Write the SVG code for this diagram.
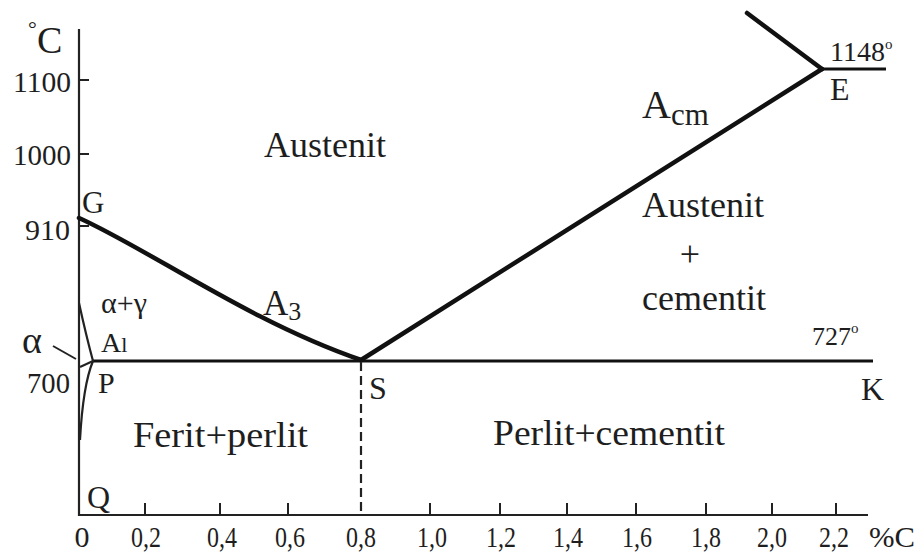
<svg xmlns="http://www.w3.org/2000/svg" width="924" height="555" viewBox="0 0 924 555">
<style>
text{font-family:"Liberation Serif","Times New Roman",serif;fill:#1e1e1e}
.ax{stroke:#222;stroke-width:2.2;fill:none}
.tk{stroke:#222;stroke-width:2;fill:none}
.ph{stroke:#111;stroke-width:4.5;fill:none;stroke-linecap:round}
.ln{stroke:#111;stroke-width:3;fill:none}
.thin{stroke:#222;stroke-width:2.2;fill:none}
.lbl{font-size:36px}
.num{font-size:30px}
.xl{font-size:30px;text-anchor:middle}
</style>
<rect width="924" height="555" fill="#fff"/>
<g id="axes">
<path class="ax" d="M79,29 V515 H868"/>
<path class="tk" d="M79,80 H89 M79,154 H89 M79,226 H89"/>
<path class="tk" d="M145,515 V503 M220,515 V503 M288,515 V503 M430,515 V503 M500,515 V503 M567,515 V503 M636,515 V503 M706,515 V503 M772,515 V503 M836,515 V503"/>
</g>
<g id="connectors">
<path class="ph" d="M79,218 C150,250 250,322 361,360"/>
<path class="ph" d="M361,360 L822,69"/>
<path class="ph" d="M747,13 L822,69"/>
<path class="ln" d="M822,69 H886"/>
<path class="ln" d="M93,361 H873"/>
<path class="thin" d="M361,362 V515" stroke-dasharray="9,5"/>
<path class="thin" d="M79,303 Q86,335 93,361"/>
<path class="thin" d="M93,361 Q83,385 80,440"/>
<path class="thin" d="M80,367 L93,361"/>
<path class="tk" d="M53,346 L76,359"/>
</g>
<g id="y-labels">
<text x="28" y="36" font-size="22">°</text>
<text x="37" y="53" font-size="38">C</text>
<text class="num" x="13" y="92" textLength="58" lengthAdjust="spacingAndGlyphs">1100</text>
<text class="num" x="13" y="165" textLength="58" lengthAdjust="spacingAndGlyphs">1000</text>
<text class="num" x="25" y="240" textLength="45" lengthAdjust="spacingAndGlyphs">910</text>
<text class="num" x="27" y="393" textLength="43" lengthAdjust="spacingAndGlyphs">700</text>
<text x="22" y="353" font-size="38">α</text>
</g>
<g id="x-labels">
<text class="xl" x="82" y="547">0</text>
<text class="xl" x="146" y="547" textLength="30" lengthAdjust="spacingAndGlyphs">0,2</text>
<text class="xl" x="222" y="547" textLength="30" lengthAdjust="spacingAndGlyphs">0,4</text>
<text class="xl" x="290" y="547" textLength="30" lengthAdjust="spacingAndGlyphs">0,6</text>
<text class="xl" x="361" y="547" textLength="30" lengthAdjust="spacingAndGlyphs">0,8</text>
<text class="xl" x="432" y="547" textLength="30" lengthAdjust="spacingAndGlyphs">1,0</text>
<text class="xl" x="501" y="547" textLength="30" lengthAdjust="spacingAndGlyphs">1,2</text>
<text class="xl" x="568" y="547" textLength="30" lengthAdjust="spacingAndGlyphs">1,4</text>
<text class="xl" x="637" y="547" textLength="30" lengthAdjust="spacingAndGlyphs">1,6</text>
<text class="xl" x="706" y="547" textLength="30" lengthAdjust="spacingAndGlyphs">1,8</text>
<text class="xl" x="772" y="547" textLength="30" lengthAdjust="spacingAndGlyphs">2,0</text>
<text class="xl" x="834" y="547" textLength="30" lengthAdjust="spacingAndGlyphs">2,2</text>
<text class="xl" x="892" y="547" textLength="46" lengthAdjust="spacingAndGlyphs">%C</text>
</g>
<g id="points">
<text x="82" y="213" font-size="31">G</text>
<text x="98" y="393" font-size="30">P</text>
<text x="87" y="508" font-size="32">Q</text>
<text x="369" y="399" font-size="32">S</text>
<text x="861" y="400" font-size="32">K</text>
<text x="830" y="100" font-size="32">E</text>
<text x="812" y="345" font-size="26">727<tspan font-size="15" dy="-12">o</tspan></text>
<text x="830" y="61" font-size="28">1148<tspan font-size="15" dy="-12">o</tspan></text>
</g>
<g id="lines-labels">
<text x="263" y="315" font-size="35">A<tspan font-size="26" dy="5">3</tspan></text>
<text x="642" y="118" font-size="40">A<tspan font-size="31" dy="7">cm</tspan></text>
<text x="101" y="313" font-size="30">α+γ</text>
<text x="101" y="352" font-size="28">A<tspan font-size="22">l</tspan></text>
</g>
<g id="regions">
<text class="lbl" x="264" y="157">Austenit</text>
<text class="lbl" x="642" y="217">Austenit</text>
<text class="lbl" x="690" y="266" text-anchor="middle">+</text>
<text class="lbl" x="642" y="310">cementit</text>
<text class="lbl" x="133" y="447" textLength="175" lengthAdjust="spacingAndGlyphs">Ferit+perlit</text>
<text class="lbl" x="493" y="445" textLength="232" lengthAdjust="spacingAndGlyphs">Perlit+cementit</text>
</g>
</svg>
